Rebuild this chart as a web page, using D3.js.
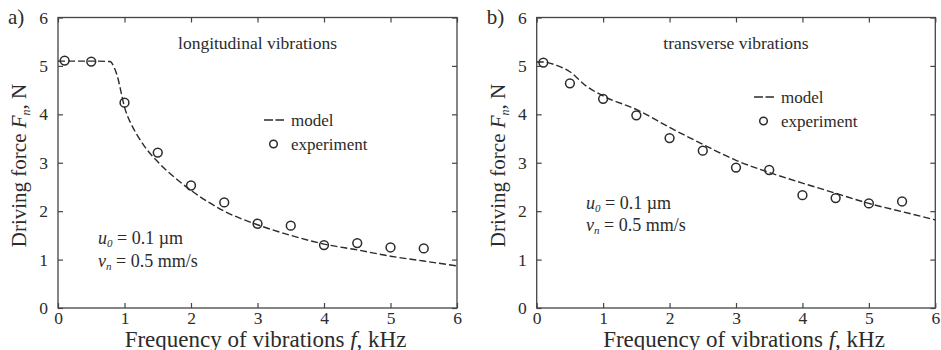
<!DOCTYPE html>
<html><head><meta charset="utf-8">
<script src="https://cdn.jsdelivr.net/npm/d3@7"></script>
<style>
body{margin:0;background:#fff}
svg{display:block}
text{font-family:"Liberation Serif","Times New Roman",serif;fill:#2b2b2b}
</style>
</head><body>
<svg id="c" width="941" height="350"></svg>
<script>
// ---- data ----
const freqExp   = [0.1, 0.5, 1.0, 1.5, 2.0, 2.5, 3.0, 3.5, 4.0, 4.5, 5.0, 5.5];
const longExp   = [5.11, 5.09, 4.24, 3.21, 2.53, 2.18, 1.74, 1.70, 1.30, 1.34, 1.25, 1.23];
const transExp  = [5.07, 4.64, 4.32, 3.98, 3.51, 3.25, 2.90, 2.85, 2.33, 2.27, 2.16, 2.20];

const longModelF  = [0, 0.5, 0.78, 0.85, 0.9, 0.95, 1.0, 1.05, 1.1, 1.2, 1.3, 1.5, 1.75, 2.0, 2.5, 3.0, 3.5, 4.0, 4.5, 5.0, 5.5, 6.0];
const longModelY  = [5.1, 5.1, 5.09, 4.95, 4.75, 4.45, 4.15, 3.95, 3.8, 3.55, 3.34, 3.02, 2.7, 2.43, 2.0, 1.72, 1.5, 1.32, 1.2, 1.07, 0.97, 0.87];
const transModelF = [0, 0.1, 0.3, 0.5, 0.75, 1.0, 1.5, 2.0, 2.5, 3.0, 3.5, 4.0, 4.5, 5.0, 5.5, 6.0];
const transModelY = [5.08, 5.08, 5.01, 4.88, 4.58, 4.38, 4.1, 3.73, 3.38, 3.05, 2.8, 2.58, 2.37, 2.16, 1.99, 1.82];

const xTicks = [0, 1, 2, 3, 4, 5, 6];
const yTicks = [0, 1, 2, 3, 4, 5, 6];

const xTitle = "Frequency of vibrations ";
const panels = [
  {tag: "a)", title: "longitudinal vibrations", exp: longExp, mf: longModelF, my: longModelY,
   left: 58, right: 457, legX: 264, legY: 120, annX: 98, annY: 244},
  {tag: "b)", title: "transverse vibrations", exp: transExp, mf: transModelF, my: transModelY,
   left: 536.7, right: 935.3, legX: 754, legY: 97, annX: 586, annY: 208.5}
];
const plotTop = 17.5, plotBottom = 308;
const ink = "#2b2b2b", axisCol = "#444";

const svg = d3.select("#c");

panels.forEach(p => {
  const x = d3.scaleLinear().domain([0, 6]).range([p.left, p.right]);
  const y = d3.scaleLinear().domain([0, 6]).range([plotBottom, plotTop]);
  const g = svg.append("g");

  // axes
  const ax = (sel) => {
    sel.attr("font-family", null).attr("font-size", null);
    sel.select(".domain").remove();
    sel.selectAll("line").attr("stroke", axisCol).attr("stroke-width", 1.2);
    sel.selectAll("text").style("font-family", '"Liberation Serif",serif').style("font-size", "17.5px").attr("fill", ink);
  };
  g.append("g").attr("transform", `translate(0,${plotBottom})`)
    .call(d3.axisBottom(x).tickValues(xTicks).tickSize(-5).tickPadding(4).tickFormat(d3.format("d"))).call(ax);
  g.append("g").attr("transform", `translate(0,${plotTop})`)
    .call(d3.axisTop(x).tickValues(xTicks).tickSize(-5).tickFormat("")).call(ax);
  g.append("g").attr("transform", `translate(${p.left},0)`)
    .call(d3.axisLeft(y).tickValues(yTicks).tickSize(-5).tickPadding(10).tickFormat(d3.format("d"))).call(ax);
  g.append("g").attr("transform", `translate(${p.right},0)`)
    .call(d3.axisRight(y).tickValues(yTicks).tickSize(-5).tickFormat("")).call(ax);
  g.append("rect").attr("x", p.left).attr("y", plotTop).attr("width", p.right - p.left).attr("height", plotBottom - plotTop)
    .attr("fill", "none").attr("stroke", axisCol).attr("stroke-width", 1.3);

  // model line
  const line = d3.line().x((d, i) => x(p.mf[i])).y((d, i) => y(p.my[i])).curve(d3.curveMonotoneX);
  g.append("path").datum(p.my).attr("d", line).attr("fill", "none")
    .attr("stroke", ink).attr("stroke-width", 1.4).attr("stroke-dasharray", "7,3");

  // experiment
  g.selectAll("circle.e").data(p.exp).enter().append("circle")
    .attr("cx", (d, i) => x(freqExp[i])).attr("cy", d => y(d)).attr("r", 4.4)
    .attr("fill", "none").attr("stroke", ink).attr("stroke-width", 1.5);

  // title inside
  g.append("text").attr("x", x(3)).attr("y", 48.5).attr("text-anchor", "middle")
    .style("font-size", "17.5px").text(p.title);

  // legend
  g.append("line").attr("x1", p.legX).attr("x2", p.legX + 20).attr("y1", p.legY).attr("y2", p.legY)
    .attr("stroke", ink).attr("stroke-width", 1.5).attr("stroke-dasharray", "9,2.5");
  g.append("text").attr("x", p.legX + 27).attr("y", p.legY + 6).style("font-size", "17px").text("model");
  g.append("circle").attr("cx", p.legX + 9.5).attr("cy", p.legY + 24).attr("r", 3.8)
    .attr("fill", "none").attr("stroke", ink).attr("stroke-width", 1.5);
  g.append("text").attr("x", p.legX + 27).attr("y", p.legY + 30).style("font-size", "17px").text("experiment");

  // annotation
  const a1 = g.append("text").attr("x", p.annX).attr("y", p.annY).style("font-size", "18px");
  a1.append("tspan").style("font-style", "italic").text("u");
  a1.append("tspan").style("font-style", "italic").style("font-size", "11px").attr("dy", 3).text("0");
  a1.append("tspan").attr("dy", -3).text(" = 0.1 \u00b5m");
  const a2 = g.append("text").attr("x", p.annX).attr("y", p.annY + 22.5).style("font-size", "18px");
  a2.append("tspan").style("font-style", "italic").text("v");
  a2.append("tspan").style("font-style", "italic").style("font-size", "11px").attr("dy", 3).text("n");
  a2.append("tspan").attr("dy", -3).text(" = 0.5 mm/s");

  // axis titles
  const xt = g.append("text").attr("x", (p.left + p.right) / 2 + 8).attr("y", 346.5)
    .attr("text-anchor", "middle").style("font-size", "23px");
  xt.append("tspan").text(xTitle);
  xt.append("tspan").style("font-style", "italic").text("f");
  xt.append("tspan").text(", kHz");

  const yt = g.append("text").attr("transform", `translate(${p.left - 32},165.5) rotate(-90)`)
    .attr("text-anchor", "middle").style("font-size", "21px");
  yt.append("tspan").text("Driving force ");
  yt.append("tspan").style("font-style", "italic").text("F");
  yt.append("tspan").style("font-style", "italic").style("font-size", "12px").attr("dy", 4).text("n");
  yt.append("tspan").attr("dy", -4).text(", N");

  // panel tag
  g.append("text").attr("x", p.left - 50).attr("y", 24).style("font-size", "21px").text(p.tag);
});
</script>
</body></html>
